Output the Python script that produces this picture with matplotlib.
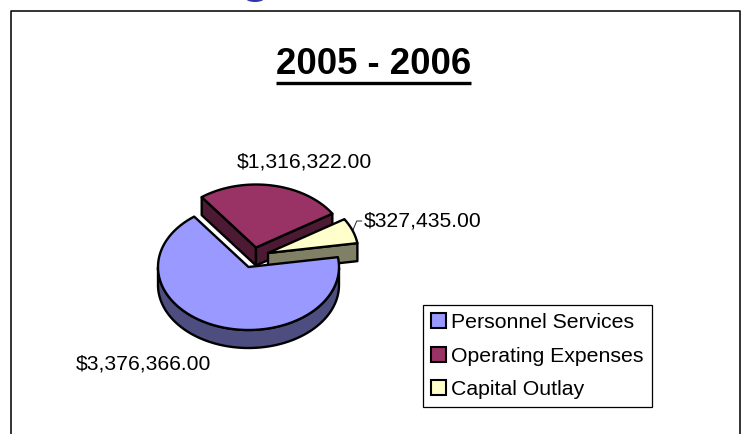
import numpy as np
import matplotlib
matplotlib.use("Agg")
import matplotlib.pyplot as plt
from matplotlib.patches import Polygon, Patch, Ellipse

# --- Data ---
title = "2005 - 2006"
categories = ["Personnel Services", "Operating Expenses", "Capital Outlay"]
amounts = [3376366.00, 1316322.00, 327435.00]
top_colors = ["#9999FF", "#993366", "#FFFFCC"]
side_colors = ["#4D4D80", "#4D1A33", "#808066"]

# --- Pie geometry, in picture pixels ---
centers = [(248.5, 267), (256, 247.5), (268, 253)]
rx, ry = 90.5, 63
depth = 18
start_angle = 81   # degrees clockwise from top


def ell(cx, cy, ang, dy=0):
    a = np.radians(ang)
    return np.column_stack([cx + rx * np.sin(a), cy - ry * np.cos(a) + dy])


def draw_slice(ax, cx, cy, a0, a1, top, side, z):
    arc = np.linspace(a0, a1, 200)
    # outer wall, only the part that faces the viewer
    vis = arc[(np.mod(arc, 360) >= 90) & (np.mod(arc, 360) <= 270)]
    if len(vis):
        wall = np.vstack([ell(cx, cy, vis), ell(cx, cy, vis[::-1], depth)])
        ax.add_patch(Polygon(wall, fc=side, ec="black", lw=1.7, joinstyle="round", zorder=z))
    # cut faces
    for ang in (a0, a1):
        p = ell(cx, cy, ang)[0]
        if np.mod(ang, 360) < 180 and ang != a0 or ang == a0 and np.mod(ang, 360) > 180:
            face = [(cx, cy), p, (p[0], p[1] + depth), (cx, cy + depth)]
            ax.add_patch(Polygon(face, fc=side, ec="black", lw=1.7, joinstyle="round", zorder=z))
    pts = np.vstack([[(cx, cy)], ell(cx, cy, arc)])
    ax.add_patch(Polygon(pts, fc=top, ec="black", lw=1.7, joinstyle="round", zorder=z + 0.5))


plt.rcParams["font.family"] = ["Liberation Sans", "DejaVu Sans"]

fig = plt.figure(figsize=(7.44, 4.34), dpi=100)
ax = fig.add_axes([0, 0, 1, 1])
ax.set_xlim(0, 744)
ax.set_ylim(434, 0)
ax.axis("off")

# frame, open at the bottom
ax.plot([11, 11, 739.5, 739.5], [434, 11, 11, 434], color="#111111", lw=1.2, zorder=1)

# bottom of a letter from the slide heading, cut off by the crop
ax.add_patch(Ellipse((255, -2), 19, 8, fc="#3333AA", ec="none"))

ax.text(373.5, 65, title, ha="center", va="center", fontsize=26.3, fontweight="bold")
ax.plot([276, 471], [82.7, 82.7], color="black", lw=2.4, solid_capstyle="butt")

# slices, from the amounts
angles = np.array(amounts) / sum(amounts) * 360
a0 = start_angle
bounds = []
for a in angles:
    bounds.append((a0, a0 + a))
    a0 += a
order = [1, 2, 0]
for z, i in enumerate(order):
    draw_slice(ax, centers[i][0], centers[i][1], bounds[i][0], bounds[i][1],
               top_colors[i], side_colors[i], 3 + z)

# data labels
labels = [("$%s" % format(v, ",.2f")).replace("$", r"\$") for v in amounts]
ax.text(143.7, 363.5, labels[0], ha="center", va="center", fontsize=15.2)
ax.text(304, 162, labels[1], ha="center", va="center", fontsize=15.2)
ax.text(423, 221, labels[2], ha="center", va="center", fontsize=15.2)
ax.plot([353, 356.7, 361.7], [230, 221, 221], color="#222222", lw=0.7)

handles = [Patch(fc=c, ec="black", lw=1.5) for c in top_colors]
leg = ax.legend(handles, categories, loc="upper left", bbox_to_anchor=(423 / 744, 1 - 305 / 434),
                fontsize=15.3, frameon=True, fancybox=False, edgecolor="black", framealpha=1,
                handlelength=0.7, handleheight=0.7, handletextpad=0.25, labelspacing=0.68,
                borderpad=0.38, borderaxespad=0)
leg.get_frame().set_linewidth(0.9)
leg.set_zorder(10)

fig.savefig("out.png", dpi=100)
